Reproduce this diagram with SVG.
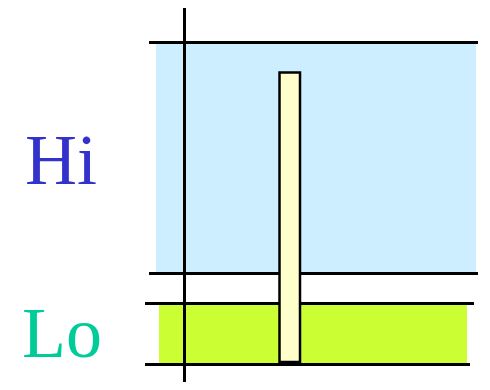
<svg xmlns="http://www.w3.org/2000/svg" width="490" height="390" viewBox="0 0 490 390">
<style>
.ln{stroke:#000;stroke-width:3;fill:none}
</style>
<rect width="490" height="390" fill="#fff"/>
<g id="hi-band"><rect x="156" y="44" width="320" height="229" fill="#cceeff"/></g>
<g id="lo-band"><rect x="159" y="305" width="308" height="61" fill="#ccff33"/></g>
<g id="connectors">
<line class="ln" x1="149" y1="42.5" x2="478" y2="42.5"/>
<line class="ln" x1="149" y1="273.5" x2="478" y2="273.5"/>
<line class="ln" x1="145" y1="303.5" x2="474" y2="303.5"/>
<line class="ln" x1="145" y1="364.5" x2="470" y2="364.5"/>
<line class="ln" x1="184.5" y1="8" x2="184.5" y2="382"/>
</g>
<g id="bar"><rect x="279.5" y="72.5" width="20.5" height="289.5" fill="#ffffcc" stroke="#000" stroke-width="2.5"/></g>
<g id="label-hi"><text x="25" y="184" fill="#3333cc" font-family="'Liberation Serif', 'Times New Roman', Times, serif" font-size="72">Hi</text></g>
<g id="label-lo"><text x="22" y="357" fill="#00cc99" font-family="'Liberation Serif', 'Times New Roman', Times, serif" font-size="72">Lo</text></g>
</svg>
